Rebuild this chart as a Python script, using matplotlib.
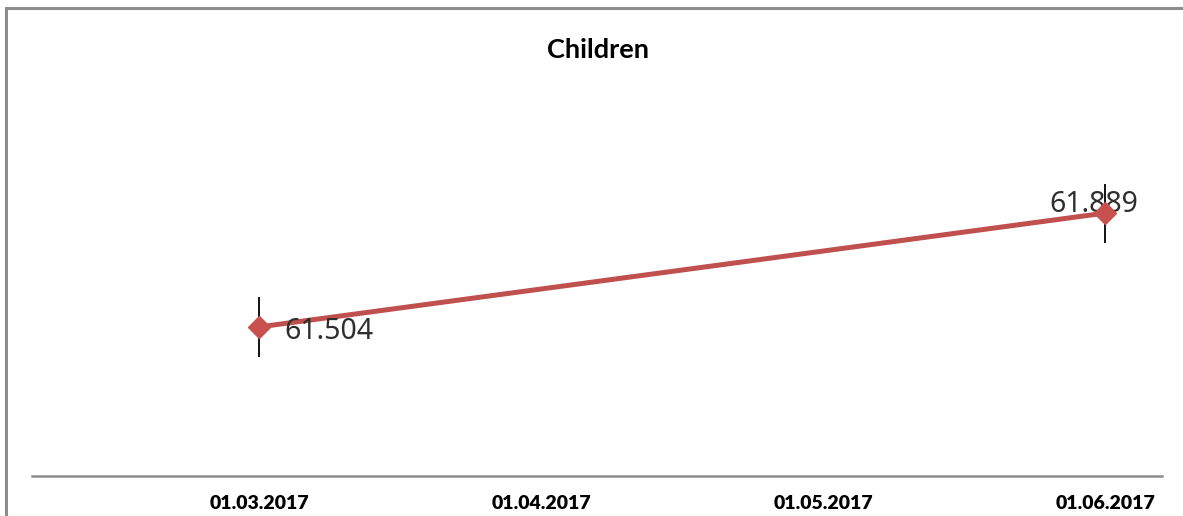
import matplotlib
matplotlib.use("Agg")
import matplotlib.pyplot as plt
from matplotlib.patches import Rectangle

# Data
categories = ["01.03.2017", "01.04.2017", "01.05.2017", "01.06.2017"]
point_idx = [0, 3]
values = [61.504, 61.889]
errors = [0.1, 0.1]
title = "Children"

W, H, DPI = 1183, 516, 100
fig = plt.figure(figsize=(W / DPI, H / DPI), dpi=DPI)

# outer chart frame (left and top edges visible)
fig.patches.append(Rectangle((6 / W, -0.1), 1.2, (H - 8) / H + 0.1,
                             transform=fig.transFigure, fill=False,
                             edgecolor="#8c8c8c", linewidth=2.2))

ax = fig.add_axes([32 / W, (H - 476) / H, (1162 - 32) / W, (476 - 62) / H])
ax.set_xlim(-0.805, 3.202)
ax.set_ylim(61.0, 62.4)

ax.errorbar(point_idx, values, yerr=errors, fmt="none", ecolor="black",
            elinewidth=1.3, capsize=0, zorder=2)
ax.plot(point_idx, values, color="#C0504D", linewidth=3.6, marker="D",
        markersize=11, markerfacecolor="#C8504D", markeredgecolor="#C8504D",
        zorder=3)

label_style = dict(textcoords="offset points", va="center", fontsize=20.5,
                   color="#2e2e2e", family="Noto Sans", fontweight="semibold")
ax.annotate(f"{values[0]:.3f}", (point_idx[0], values[0]), xytext=(18, -3),
            ha="left", zorder=4, **label_style)
ax.annotate(f"{values[1]:.3f}", (point_idx[1], values[1]), xytext=(-8, 6),
            ha="center", zorder=1, **label_style)

for s in ["top", "right", "left"]:
    ax.spines[s].set_visible(False)
ax.spines["bottom"].set_color("#8c8c8c")
ax.spines["bottom"].set_linewidth(1.8)
ax.set_yticks([])
ax.set_xticks(range(len(categories)))
ax.set_xticklabels(categories, fontsize=14, fontweight="heavy", family="Lato")
ax.tick_params(axis="x", length=0, pad=14)

fig.text(598 / W, 1 - 50 / H, title, ha="center", va="center",
         fontsize=19.5, fontweight="bold", family="Lato")

fig.savefig("out.png", dpi=DPI)
